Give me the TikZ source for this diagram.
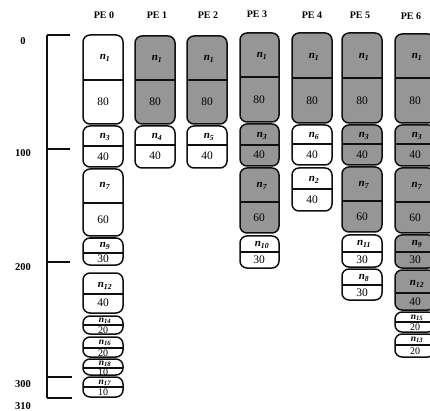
\documentclass[tikz,border=0pt]{standalone}
\usepackage{fontspec}
\setmainfont{Liberation Serif}
\newcommand{\blkname}[1]{\textit{n}\textsubscript{\textit{#1}}}
\definecolor{figline}{RGB}{15,15,15}
\definecolor{figshade}{RGB}{150,150,150}
\tikzset{
  blk/.style  ={draw=figline, line width=1.5pt, rounded corners=7pt, fill=white},
  blks/.style ={blk, fill=figshade},
  sep/.style  ={draw=figline, line width=1.2pt},
  ax/.style   ={draw=figline, line width=1.4pt, line cap=butt},
  pe/.style   ={font=\fontsize{10}{10}\selectfont\bfseries, inner sep=1pt},
  num/.style  ={font=\fontsize{10.5}{10.5}\selectfont\bfseries, inner sep=1pt},
  nm/.style   ={font=\fontsize{11}{11}\selectfont\bfseries, inner sep=0pt},
  sz/.style   ={font=\fontsize{11.5}{11.5}\selectfont, inner sep=0pt},
  nmt/.style  ={font=\fontsize{9.5}{9.5}\selectfont\bfseries, inner sep=0pt},
  szt/.style  ={font=\fontsize{10}{10}\selectfont, inner sep=0pt},
}

\begin{document}
\begin{tikzpicture}[x=1pt,y=-1pt]
  \useasboundingbox (0,0) rectangle (430,411);
  % column heads
  \node[pe] (h0) at (104,15) {PE 0};
  \node[pe] (h1) at (157,15) {PE 1};
  \node[pe] (h2) at (208,15) {PE 2};
  \node[pe] (h3) at (257,14) {PE 3};
  \node[pe] (h4) at (312,15) {PE 4};
  \node[pe] (h5) at (360,15) {PE 5};
  \node[pe] (h6) at (411,16) {PE 6};
  % address axis
  \draw[ax] (47,35) -- (47,398);
  \draw[ax] (47,35) -- (70,35);
  \draw[ax] (47,149) -- (70,149);
  \draw[ax] (47,262) -- (70,262);
  \draw[ax] (47,377) -- (72,377);
  \draw[ax] (47,398) -- (72,398);
  \node[num] (a0) at (23,41) {0};
  \node[num] (a1) at (23,153) {100};
  \node[num] (a2) at (23,267) {200};
  \node[num] (a3) at (23,384) {300};
  \node[num] (a4) at (23,406) {310};
  % PE 0
  \draw[blk] (83,35) rectangle (123,124);  \draw[sep] (83,80) -- (123,80);
  \node[nm] (p0n1) at (105,58) {\blkname{1}};  \node[sz] (p0s1) at (103,102) {80};
  \draw[blk] (83,126) rectangle (123,167); \draw[sep] (83,146) -- (123,146);
  \node[nm] (p0n3) at (105,137) {\blkname{3}}; \node[sz] (p0s3) at (103,157) {40};
  \draw[blk] (83,169) rectangle (123,236); \draw[sep] (83,203) -- (123,203);
  \node[nm] (p0n7) at (105,186) {\blkname{7}}; \node[sz] (p0s7) at (103,220) {60};
  \draw[blk] (83,238) rectangle (123,265); \draw[sep] (83,253) -- (123,253);
  \node[nm] (p0n9) at (105,246) {\blkname{9}}; \node[sz] (p0s9) at (103,259) {30};
  \draw[blk] (83,273) rectangle (123,313); \draw[sep] (83,294) -- (123,294);
  \node[nm] (p0n12) at (105,286) {\blkname{12}}; \node[sz] (p0s12) at (103,303) {40};
  \draw[blk] (83,316) rectangle (123,334); \draw[sep] (83,325) -- (123,325);
  \node[nmt] (p0n14) at (105,321) {\blkname{14}}; \node[szt] (p0s14) at (103,330) {20};
  \draw[blk] (83,337) rectangle (123,357); \draw[sep] (83,348) -- (123,348);
  \node[nmt] (p0n16) at (105,343) {\blkname{16}}; \node[szt] (p0s16) at (103,353) {20};
  \draw[blk] (83,359) rectangle (123,375); \draw[sep] (83,368) -- (123,368);
  \node[nmt] (p0n18) at (105,364) {\blkname{18}}; \node[szt] (p0s18) at (103,372) {10};
  \draw[blk] (83,377) rectangle (123,397); \draw[sep] (83,387) -- (123,387);
  \node[nmt] (p0n17) at (105,383) {\blkname{17}}; \node[szt] (p0s17) at (103,392) {10};
  % PE 1
  \draw[blks] (135,36) rectangle (175,124); \draw[sep] (135,80) -- (175,80);
  \node[nm] (p1n1) at (157,59) {\blkname{1}};  \node[sz] (p1s1) at (155,102) {80};
  \draw[blk] (135,126) rectangle (175,168); \draw[sep] (135,145) -- (175,145);
  \node[nm] (p1n4) at (157,137) {\blkname{4}}; \node[sz] (p1s4) at (155,156) {40};
  % PE 2
  \draw[blks] (187,36) rectangle (227,124); \draw[sep] (187,80) -- (227,80);
  \node[nm] (p2n1) at (209,59) {\blkname{1}};  \node[sz] (p2s1) at (207,102) {80};
  \draw[blk] (187,126) rectangle (227,168); \draw[sep] (187,145) -- (227,145);
  \node[nm] (p2n5) at (209,137) {\blkname{5}}; \node[sz] (p2s5) at (207,156) {40};
  % PE 3
  \draw[blks] (240,33) rectangle (279,122); \draw[sep] (240,77) -- (279,77);
  \node[nm] (p3n1) at (262,56) {\blkname{1}};  \node[sz] (p3s1) at (259,100) {80};
  \draw[blks] (240,124) rectangle (279,166); \draw[sep] (240,145) -- (279,145);
  \node[nm] (p3n3) at (262,136) {\blkname{3}}; \node[sz] (p3s3) at (259,155) {40};
  \draw[blks] (240,168) rectangle (279,233); \draw[sep] (240,202) -- (279,202);
  \node[nm] (p3n7) at (262,186) {\blkname{7}}; \node[sz] (p3s7) at (259,218) {60};
  \draw[blk] (240,236) rectangle (279,268); \draw[sep] (240,252) -- (279,252);
  \node[nm] (p3n10) at (262,245) {\blkname{10}}; \node[sz] (p3s10) at (259,260) {30};
  % PE 4
  \draw[blks] (292,33) rectangle (332,123); \draw[sep] (292,78) -- (332,78);
  \node[nm] (p4n1) at (314,57) {\blkname{1}};  \node[sz] (p4s1) at (312,101) {80};
  \draw[blk] (292,125) rectangle (332,165); \draw[sep] (292,144) -- (332,144);
  \node[nm] (p4n6) at (314,136) {\blkname{6}}; \node[sz] (p4s6) at (312,155) {40};
  \draw[blk] (292,168) rectangle (332,211); \draw[sep] (292,189) -- (332,189);
  \node[nm] (p4n2) at (314,180) {\blkname{2}}; \node[sz] (p4s2) at (312,200) {40};
  % PE 5
  \draw[blks] (342,33) rectangle (382,123); \draw[sep] (342,78) -- (382,78);
  \node[nm] (p5n1) at (364,57) {\blkname{1}};  \node[sz] (p5s1) at (362,101) {80};
  \draw[blks] (342,125) rectangle (382,165); \draw[sep] (342,144) -- (382,144);
  \node[nm] (p5n3) at (364,136) {\blkname{3}}; \node[sz] (p5s3) at (362,155) {40};
  \draw[blks] (342,167) rectangle (382,232); \draw[sep] (342,201) -- (382,201);
  \node[nm] (p5n7) at (364,185) {\blkname{7}}; \node[sz] (p5s7) at (362,217) {60};
  \draw[blk] (342,235) rectangle (382,267); \draw[sep] (342,252) -- (382,252);
  \node[nm] (p5n11) at (364,244) {\blkname{11}}; \node[sz] (p5s11) at (362,260) {30};
  \draw[blk] (342,269) rectangle (382,300); \draw[sep] (342,285) -- (382,285);
  \node[nm] (p5n8) at (364,278) {\blkname{8}}; \node[sz] (p5s8) at (362,293) {30};
  % PE 6
  \draw[blks] (395,34) rectangle (435,123); \draw[sep] (395,78) -- (435,78);
  \node[nm] (p6n1) at (417,57) {\blkname{1}};  \node[sz] (p6s1) at (415,101) {80};
  \draw[blks] (395,125) rectangle (435,166); \draw[sep] (395,144) -- (435,144);
  \node[nm] (p6n3) at (417,136) {\blkname{3}}; \node[sz] (p6s3) at (415,155) {40};
  \draw[blks] (395,168) rectangle (435,233); \draw[sep] (395,202) -- (435,202);
  \node[nm] (p6n7) at (417,186) {\blkname{7}}; \node[sz] (p6s7) at (415,218) {60};
  \draw[blks] (395,235) rectangle (435,268); \draw[sep] (395,252) -- (435,252);
  \node[nm] (p6n9) at (417,244) {\blkname{9}}; \node[sz] (p6s9) at (415,260) {30};
  \draw[blks] (395,270) rectangle (435,310); \draw[sep] (395,293) -- (435,293);
  \node[nm] (p6n12) at (417,284) {\blkname{12}}; \node[sz] (p6s12) at (415,302) {40};
  \draw[blk] (395,312) rectangle (435,332); \draw[sep] (395,322) -- (435,322);
  \node[nmt] (p6n15) at (417,318) {\blkname{15}}; \node[szt] (p6s15) at (415,327) {20};
  \draw[blk] (395,334) rectangle (435,357); \draw[sep] (395,345) -- (435,345);
  \node[nmt] (p6n13) at (417,340) {\blkname{13}}; \node[szt] (p6s13) at (415,351) {20};
\end{tikzpicture}
\end{document}
